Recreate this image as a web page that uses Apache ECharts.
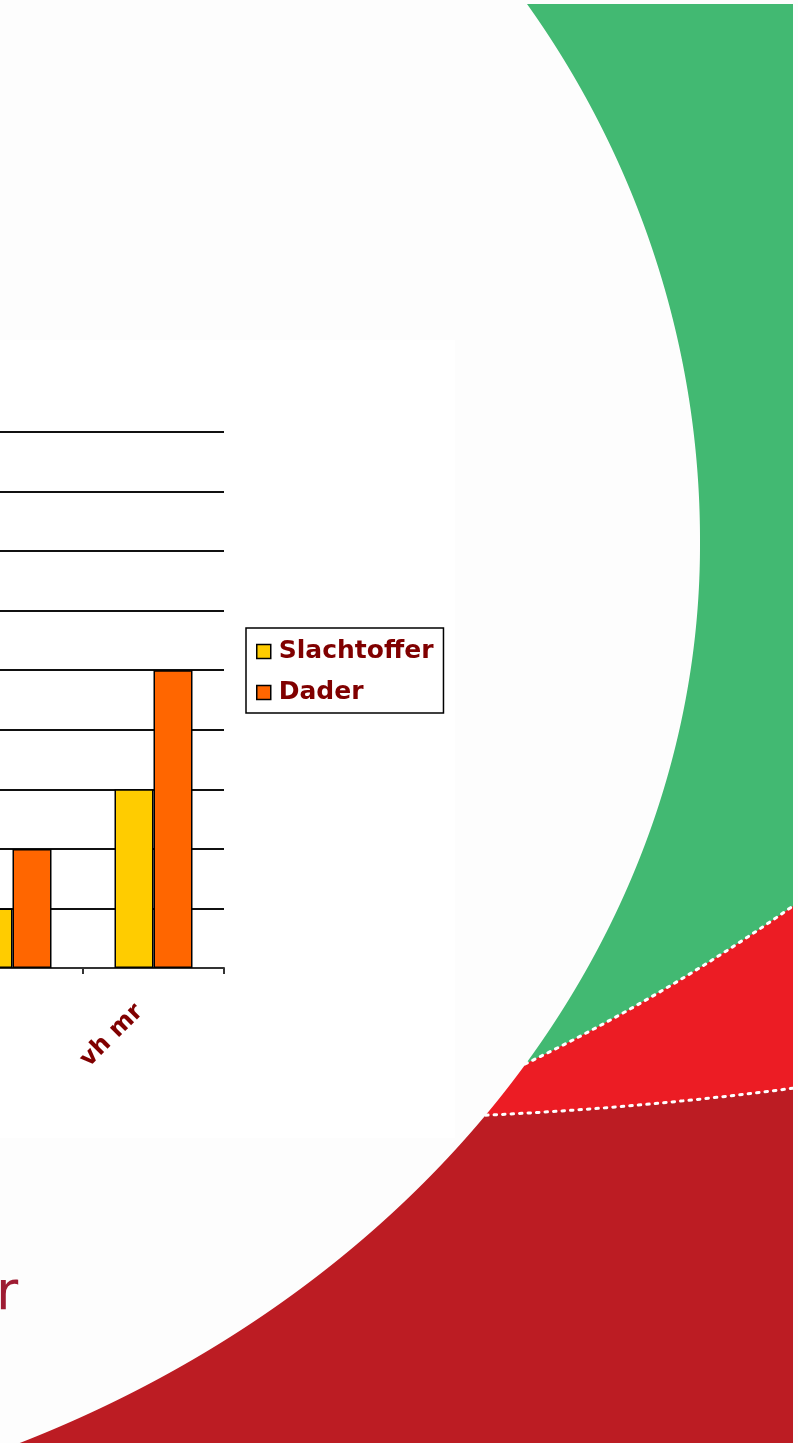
<!DOCTYPE html>
<html>
<head>
<meta charset="utf-8">
<script src="https://cdn.jsdelivr.net/npm/echarts@6/dist/echarts.min.js"></script>
<style>
  html, body { margin: 0; padding: 0; background: #fdfdfd; }
  #main { width: 798px; height: 1443px; }
</style>
</head>
<body>
<div id="main"></div>
<script>
// chart data (the left part of the chart is cut off in the slide)
const categories = ['', 'vh mr']
const slachtoffer = [1, 3]
const dader = [2, 5]
const yMax = 9

const darkRed = '#800000'

const chartDom = document.getElementById('main')
const myChart = echarts.init(chartDom)

// outline of the big white shape of the slide: two half ellipses
// that meet with a vertical tangent at their right-most point
function halfEllipse(y, cx, cy, rx, ry) {
  return cx + rx * Math.sqrt(Math.max(0, 1 - ((y - cy) / ry) ** 2))
}
const whiteShape = []
for (let y = -10; y <= 1460; y += 3) {
  const x = y < 545
    ? halfEllipse(y, -299, 540, 999, 953)
    : halfEllipse(y, -474.8, 545, 1174.8, 990)
  whiteShape.push([x, y])
}
whiteShape.push([-50, 1460], [-50, -10])

const dots = { fill: null, stroke: '#fff', lineWidth: 3, lineDash: [2.5, 6], lineCap: 'round' }

// slide background: coloured bands behind the white shape
const background = [
  { type: 'rect', shape: { x: 0, y: 0, width: 798, height: 1443 }, style: { fill: '#fdfdfd' } },
  { type: 'rect', shape: { x: 0, y: 4, width: 793, height: 1439 }, style: { fill: '#bc1c23' } },
  { type: 'circle', shape: { cx: 319, cy: -2544, r: 3663 }, style: { fill: '#ec1c24' } },
  { type: 'circle', shape: { cx: -307, cy: -653, r: 1908 }, style: { fill: '#42b972' } },
  { type: 'circle', shape: { cx: 319, cy: -2544, r: 3663 }, style: dots },
  { type: 'circle', shape: { cx: -307, cy: -653, r: 1908 }, style: dots },
  { type: 'polygon', shape: { points: whiteShape }, style: { fill: '#fdfdfd' } },
  { type: 'rect', shape: { x: 0, y: 0, width: 798, height: 4 }, style: { fill: '#fdfdfd' } },
  { type: 'rect', shape: { x: 793, y: 0, width: 5, height: 1443 }, style: { fill: '#fdfdfd' } },
  // white area of the pasted chart picture
  { type: 'rect', shape: { x: 0, y: 340, width: 455, height: 798 }, style: { fill: '#ffffff' } },
  {
    type: 'text', x: -4, y: 1322,
    style: { text: 'r', fill: '#9e1b32', font: '54px "DejaVu Sans"', textVerticalAlign: 'bottom' }
  }
].map((el, i) => Object.assign(el, { z: -10, z2: i, silent: true }))

const option = {
  animation: false,
  textStyle: { fontFamily: 'DejaVu Sans' },
  graphic: { elements: background },
  legend: {
    orient: 'vertical',
    left: 246,
    top: 628,
    padding: [11, 10, 8, 10],
    itemGap: 16,
    itemWidth: 14,
    itemHeight: 14,
    icon: 'rect',
    borderColor: '#000',
    borderWidth: 1.5,
    backgroundColor: '#fff',
    itemStyle: { borderColor: '#000', borderWidth: 1.5 },
    textStyle: { color: darkRed, fontSize: 25, fontWeight: 'bold', fontFamily: 'DejaVu Sans', padding: [0, 0, 0, 3] }
  },
  grid: {
    left: -58,
    right: 574,
    top: 432,
    bottom: 475,
    containLabel: false,
    outerBoundsMode: 'none'
  },
  xAxis: {
    type: 'category',
    data: categories,
    axisLine: { lineStyle: { color: '#333', width: 2 } },
    axisTick: { show: true, length: 6, lineStyle: { color: '#333', width: 2 } },
    axisLabel: {
      rotate: 45,
      margin: 26,
      padding: [0, 20, 0, 0],
      color: darkRed,
      fontSize: 24,
      fontWeight: 'bold',
      fontFamily: 'DejaVu Sans'
    }
  },
  yAxis: {
    type: 'value',
    min: 0,
    max: yMax,
    interval: 1,
    axisLine: { show: false },
    axisTick: { show: false },
    axisLabel: { show: false },
    splitLine: { lineStyle: { color: '#111', width: 2 } }
  },
  series: [
    {
      name: 'Slachtoffer',
      type: 'bar',
      data: slachtoffer,
      barWidth: 39,
      barGap: '0%',
      itemStyle: { color: '#ffcc00', borderColor: '#000', borderWidth: 1.5 }
    },
    {
      name: 'Dader',
      type: 'bar',
      data: dader,
      barWidth: 39,
      itemStyle: { color: '#ff6600', borderColor: '#000', borderWidth: 1.5 }
    }
  ]
}

myChart.setOption(option)
</script>
</body>
</html>
